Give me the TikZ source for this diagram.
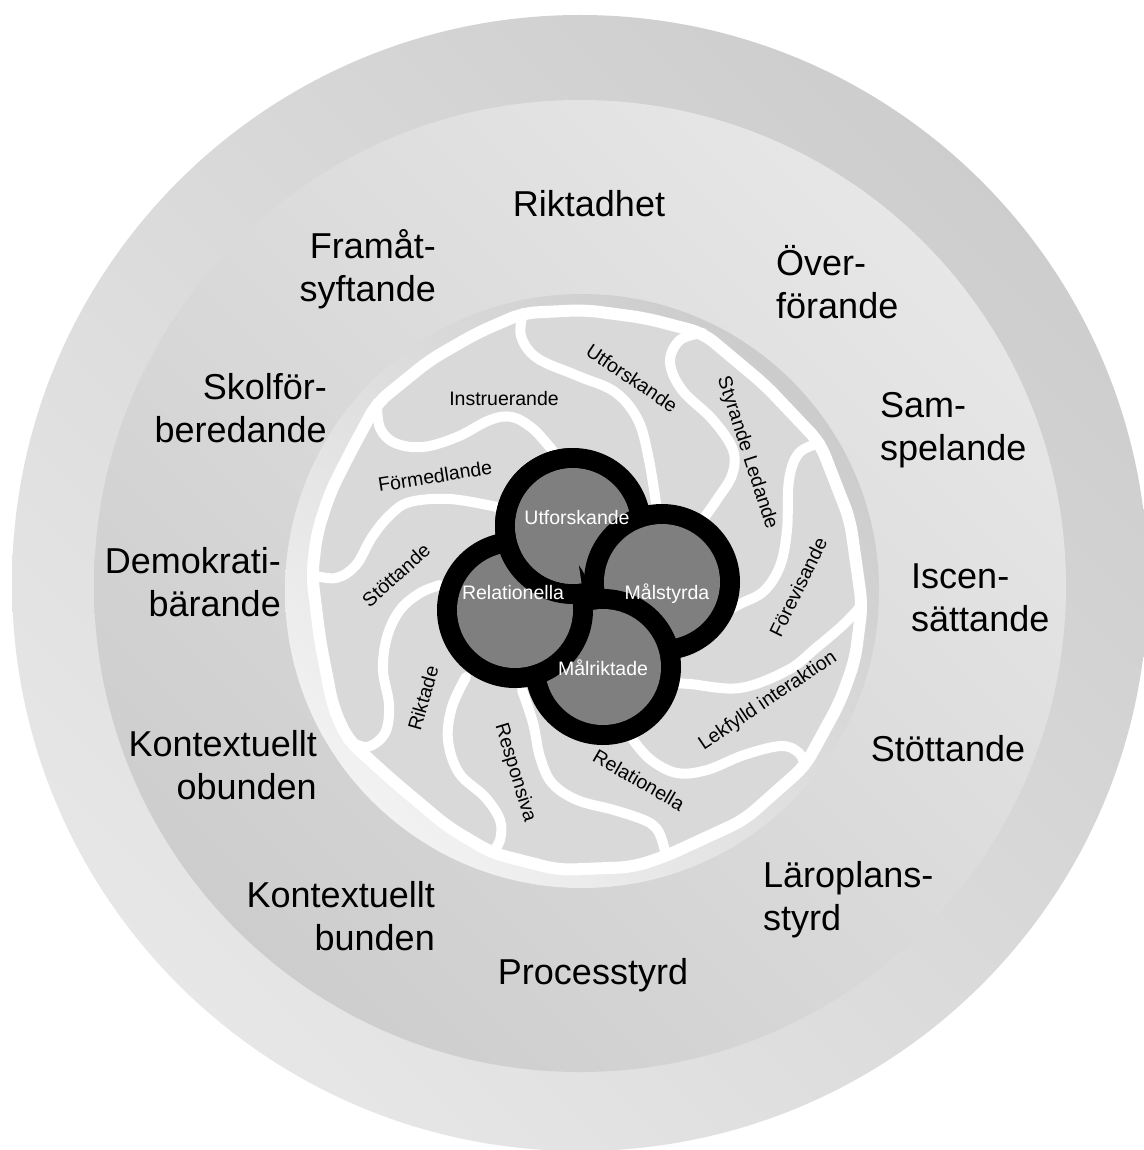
\documentclass[tikz,border=0pt]{standalone}
\usepackage{fontspec}
\setmainfont{Liberation Sans}
\usetikzlibrary{shadings}
\definecolor{ringdark}{HTML}{C8C8C8}
\definecolor{ringmid}{HTML}{DADADA}
\definecolor{ringlight}{HTML}{ECECEC}
\definecolor{diskdark}{HTML}{C4C4C4}
\definecolor{diskmid}{HTML}{DEDEDE}
\definecolor{disklight}{HTML}{FAFAFA}
\definecolor{channel}{HTML}{D9D9D9}
\definecolor{lobegray}{HTML}{7F7F7F}
\newcommand{\drawlobe}[1]{%
  \fill[black] (#1) circle[radius=78pt];
  \fill[lobegray] (#1) circle[radius=58pt];}
\newcommand{\redrawlobe}[1]{%
  \fill[black, even odd rule] (#1) circle[radius=78pt] (#1) circle[radius=58pt];
  \fill[lobegray] (#1) circle[radius=58pt];}
\begin{document}
\begin{tikzpicture}[x=1pt,y=-1pt,
  big/.style={font=\fontsize{36}{43}\selectfont, inner sep=0pt},
  small/.style={font=\fontsize{19.5}{23}\selectfont, inner sep=0pt},
  lobetext/.style={font=\fontsize{19.5}{23}\selectfont, inner sep=0pt, text=white},
  arm/.style={draw=white, line width=10pt, line cap=round, line join=round},
  rim/.style={draw=white, line width=12pt, line join=round}]
\useasboundingbox[fill=white] (0,0) rectangle (1143,1150);

% concentric rings
\shade[upper right=ringdark, lower left=ringlight, upper left=ringmid, lower right=ringmid]
  (580,583) circle[radius=568pt];
\shade[upper right=ringlight, lower left=ringdark, upper left=ringmid, lower right=ringmid]
  (580,586) circle[radius=486pt];
\shade[upper right=diskdark, lower left=disklight, upper left=diskmid, lower right=diskmid]
  (582,591) circle[radius=297pt];

% channel area and its white rim
\coordinate (jF) at (377,403);
\coordinate (jA) at (523,313);
\coordinate (jB) at (703,333);
\coordinate (jC) at (820,443);
\coordinate (jD) at (862,605);
\coordinate (jK) at (805,766);
\coordinate (jJ) at (666,856);
\coordinate (jI) at (492,853);
\coordinate (jH) at (348,740);
\coordinate (jG) at (312,575);
\path[fill=channel, rim, rounded corners=14pt]
  (jF) -- (430,360) -- (477,333) -- (jA) -- (585,310) -- (645,318) -- (jB)
  -- (765,385) -- (jC) -- (850,520) -- (jD) -- (855,660) -- (840,702) -- (jK)
  -- (744,820) -- (jJ) -- (633,867) -- (559,870) -- (jI) -- (448,827) -- (392,780)
  -- (jH) -- (333,707) -- (320,640) -- (jG) -- (317,533) -- (330,493) -- (350,453) -- cycle;

% spiral walls between the channels
\draw[arm] plot[smooth, tension=0.6] coordinates {(jA) (521,336) (537,358) (578,376) (615,392) (638,420) (649,460) (657,510)};
\draw[arm] plot[smooth, tension=0.6] coordinates {(jB) (680,340) (670,362) (682,390) (713,420) (733,450) (732,475) (718,498) (704,518)};
\draw[arm] plot[smooth, tension=0.6] coordinates {(jC) (799,453) (789,480) (787,530) (780,566) (764,591) (742,603) (728,610)};
\draw[arm] plot[smooth, tension=0.6] coordinates {(jD) (843,625) (816,648) (788,670) (740,688) (690,684) (672,683)};
\draw[arm] plot[smooth, tension=0.6] coordinates {(jK) (799,753) (781,746) (744,755) (707,770) (677,773) (651,760) (633,740)};
\draw[arm] plot[smooth, tension=0.6] coordinates {(jJ) (662,840) (656,828) (644,820) (614,810) (577,800) (552,783) (540,757) (533,723) (522,690)};
\draw[arm] plot[smooth, tension=0.6] coordinates {(jI) (500,840) (500,820) (485,797) (459,773) (448,740) (452,707) (466,677)};
\draw[arm] plot[smooth, tension=0.6] coordinates {(jH) (367,747) (385,733) (389,705) (383,670) (387,637) (400,610) (420,593) (440,585)};
\draw[arm] plot[smooth, tension=0.6] coordinates {(jG) (336,578) (356,565) (372,537) (390,515) (410,502) (450,499) (497,507)};
\draw[arm] plot[smooth, tension=0.6] coordinates {(jF) (380,428) (395,443) (423,447) (457,437) (490,420) (512,417) (532,428) (548,445) (556,455)};

% interlocking centre lobes: each lobe passes over the one before it
\coordinate (cU) at (573,526);
\coordinate (cM) at (662,582);
\coordinate (cMr) at (603,667);
\coordinate (cR) at (515,610);
\drawlobe{cU}
\drawlobe{cM}
\drawlobe{cMr}
\drawlobe{cR}
\begin{scope}
  \clip (573,420) -- (cU) -- (584,600) -- (560,660) -- (420,660) -- (420,420) -- cycle;
  \redrawlobe{cU}
\end{scope}

% lobe titles
\node[lobetext] (tU) at (577,518) {Utforskande};
\node[lobetext] (tR) at (513,593) {Relationella};
\node[lobetext] (tM) at (667,594) {Målstyrda};
\node[lobetext] (tMr) at (603,668) {Målriktade};

% channel titles
\node[small] (c1) at (504,399) {Instruerande};
\node[small, rotate=-34] (c2) at (632,378) {Utforskande};
\node[small, rotate=-72] (c3) at (747,453) {Styrande Ledande};
\node[small, rotate=64] (c4) at (798,587) {Förevisande};
\node[small, rotate=34] (c5) at (768,701) {Lekfylld interaktion};
\node[small, rotate=-30] (c6) at (639,780) {Relationella};
\node[small, rotate=-73] (c7) at (515,773) {Responsiva};
\node[small, rotate=74] (c8) at (423,698) {Riktade};
\node[small, rotate=42] (c9) at (396,575) {Stöttande};
\node[small, rotate=9] (c10) at (435,476) {Förmedlande};

% outer titles
\node[big] (o1) at (589,204) {Riktadhet};
\node[big, align=right, anchor=east] (o2) at (436,269) {Framåt-\\syftande};
\node[big, align=left, anchor=west] (o3) at (776,282) {Över-\\förande};
\node[big, align=right, anchor=east] (o4) at (327,408) {Skolför-\\beredande};
\node[big, align=left, anchor=west] (o5) at (880,430) {Sam-\\spelande};
\node[big, align=right, anchor=east] (o6) at (281,582) {Demokrati-\\bärande};
\node[big, align=left, anchor=west] (o7) at (911,598) {Iscen-\\sättande};
\node[big, align=right, anchor=east] (o8) at (317,765) {Kontextuellt\\obunden};
\node[big] (o9) at (948,749) {Stöttande};
\node[big, align=right, anchor=east] (o10) at (435,916) {Kontextuellt\\bunden};
\node[big, align=left, anchor=west] (o11) at (763,900) {Läroplans-\\styrd};
\node[big] (o12) at (593,975) {Processtyrd};
\end{tikzpicture}
\end{document}
